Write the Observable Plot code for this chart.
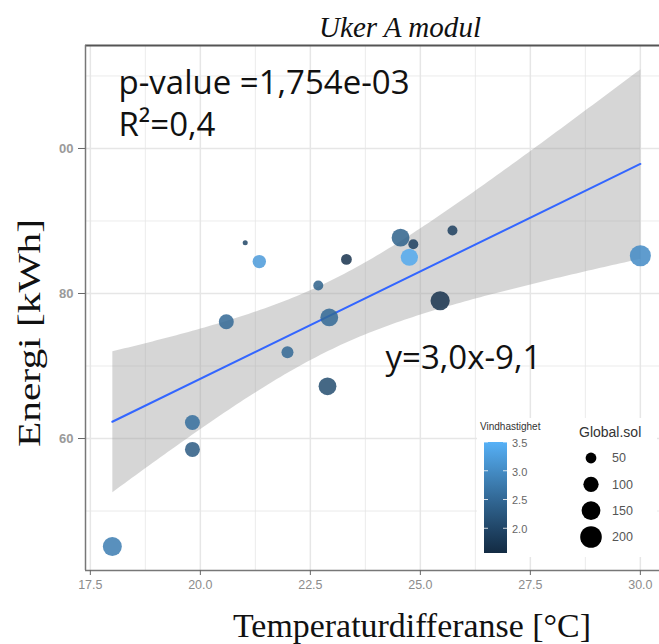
<!DOCTYPE html>
<html>
<head>
<meta charset="utf-8">
<script src="https://cdn.jsdelivr.net/npm/d3@7"></script>
<script src="https://cdn.jsdelivr.net/npm/@observablehq/plot@0.6"></script>
<style>
  html, body { margin: 0; padding: 0; background: white; overflow: hidden; }
  #wrap { position: relative; width: 659px; height: 644px; }
  #wrap svg { position: absolute; left: 0; top: 0; }
</style>
</head>
<body>
<div id="wrap"></div>
<script>
// ---- data ----
const temp   = [18.0, 19.82, 19.82, 20.59, 21.02, 21.34, 21.98, 22.68, 22.93, 22.89, 23.32, 24.55, 24.84, 24.75, 25.45, 25.73, 30.0];
const energi = [45.1, 62.2, 58.5, 76.1, 87.0, 84.4, 71.9, 81.1, 76.7, 67.2, 84.7, 87.7, 86.8, 85.0, 79.0, 88.7, 85.2];
const vind   = [2.8, 2.6, 2.3, 2.5, 2.0, 3.2, 2.5, 2.4, 2.5, 2.1, 1.7, 2.4, 1.9, 3.4, 1.7, 1.9, 3.0];
const sol    = [170, 106, 106, 106, 12, 85, 68, 47, 150, 150, 55, 150, 47, 140, 175, 47, 210];

const xTicks = [17.5, 20.0, 22.5, 25.0, 27.5, 30.0];
const xMinor = [18.75, 21.25, 23.75, 26.25, 28.75];
const yTicks = [60, 80, 100];
const yTickLabels = ["60", "80", "00"];
const yMinor = [50, 70, 90, 110];
const vindTicks = [2.0, 2.5, 3.0, 3.5];
const solTicks = [50, 100, 150, 200];

const title = "Uker A modul";
const xLabel = "Temperaturdifferanse [°C]";
const yLabel = "Energi [kWh]";
const pText = "p-value =1,754e-03";
const r2Text = "R²=0,4";
const eqText = "y=3,0x-9,1";
const vindTitle = "Vindhastighet";
const solTitle = "Global.sol";

const xDomain = [17.39, 30.435];
const yDomain = [41.8, 114.2];
const vindDomain = [1.57, 3.5];
const colorRange = ["#132B43", "#56B1F7"];

const data = temp.map((t, i) => ({temp: t, energi: energi[i], vind: vind[i], sol: sol[i]}));

const W = 659, H = 644;
const gridColor = "#e6e6e6";
const annFont = "Open Sans, sans-serif";

const plot = Plot.plot({
  width: W, height: H,
  marginLeft: 85, marginRight: 0, marginTop: 45, marginBottom: 74,
  style: {fontFamily: "Liberation Sans, Arial, sans-serif", background: "white"},
  x: {domain: xDomain},
  y: {domain: yDomain},
  r: {type: "sqrt", domain: [0, 250], range: [0, 11.5]},
  color: {type: "linear", domain: vindDomain, range: colorRange, interpolate: d3.interpolateLab},
  marks: [
    Plot.gridX(xMinor, {stroke: gridColor, strokeOpacity: 1, strokeWidth: 0.8}),
    Plot.gridY(yMinor, {stroke: gridColor, strokeOpacity: 1, strokeWidth: 0.8}),
    Plot.gridX(xTicks, {stroke: gridColor, strokeOpacity: 1, strokeWidth: 1.5}),
    Plot.gridY(yTicks, {stroke: gridColor, strokeOpacity: 1, strokeWidth: 1.5}),
    Plot.linearRegressionY(data, {x: "temp", y: "energi", ci: 0.95, stroke: "#3366ff", strokeWidth: 2, fill: "#999999", fillOpacity: 0.4}),
    Plot.dot(data, {x: "temp", y: "energi", r: "sol", fill: "vind", fillOpacity: 0.85}),
    Plot.ruleY([yDomain[1]], {stroke: "#555", strokeWidth: 2}),
    Plot.ruleX([xDomain[0]], {stroke: "#777", strokeWidth: 1.5}),
    Plot.ruleY([yDomain[0]], {stroke: "#777", strokeWidth: 1.5}),
    Plot.axisX(xTicks, {tickFormat: d => d.toFixed(1), fontSize: 12.5, stroke: "#666", fill: "#8c8c8c", tickSize: 5, tickPadding: 5, label: null}),
    Plot.axisY(yTicks, {tickFormat: d => yTickLabels[yTicks.indexOf(d)], fontSize: 13, fontWeight: "bold", stroke: "#666", fill: "#9a9a9a", tickSize: 7, tickPadding: 5, label: null}),
    Plot.text([pText], {frameAnchor: "top-left", dx: 33, dy: 38, fontSize: 33, textAnchor: "start", lineAnchor: "middle", fontFamily: annFont, fill: "#111"}),
    Plot.text([r2Text], {frameAnchor: "top-left", dx: 33, dy: 80, fontSize: 33, textAnchor: "start", lineAnchor: "middle", fontFamily: annFont, fill: "#111"}),
    Plot.text([eqText], {frameAnchor: "top-left", dx: 300, dy: 313, fontSize: 33, textAnchor: "start", lineAnchor: "middle", fontFamily: annFont, fill: "#111"})
  ]
});
document.getElementById("wrap").appendChild(plot);

// ---- overlay: titles, axis labels and legends (same scales as the plot) ----
const color = d3.scaleLinear().domain(vindDomain).range(colorRange).interpolate(d3.interpolateLab);
const rScale = d3.scaleSqrt().domain([0, 250]).range([0, 11.5]);
const svg = d3.select("#wrap").append("svg").attr("width", W).attr("height", H)
  .style("pointer-events", "none").style("font-family", "Liberation Sans, Arial, sans-serif");

const serif = "Liberation Serif, Times New Roman, serif";
svg.append("text").attr("x", 400).attr("y", 37).attr("text-anchor", "middle")
  .attr("font-family", serif).attr("font-style", "italic").attr("font-size", 29).attr("fill", "#111")
  .attr("textLength", 162).attr("lengthAdjust", "spacingAndGlyphs").text(title);
svg.append("text").attr("x", 412).attr("y", 637).attr("text-anchor", "middle")
  .attr("font-family", serif).attr("font-size", 34).attr("fill", "#111")
  .attr("textLength", 358).attr("lengthAdjust", "spacingAndGlyphs").text(xLabel);
svg.append("text").attr("transform", "translate(40,333) rotate(-90)").attr("text-anchor", "middle")
  .attr("font-family", serif).attr("font-size", 32).attr("fill", "#111")
  .attr("textLength", 228).attr("lengthAdjust", "spacingAndGlyphs").text(yLabel);

// legend background
svg.append("rect").attr("x", 477).attr("y", 418).attr("width", 180).attr("height", 139).attr("fill", "white");

// colour bar
const grad = svg.append("defs").append("linearGradient").attr("id", "vg")
  .attr("x1", 0).attr("y1", 1).attr("x2", 0).attr("y2", 0);
d3.range(0, 1.0001, 0.1).forEach(t => {
  grad.append("stop").attr("offset", t).attr("stop-color", color(vindDomain[0] + t * (vindDomain[1] - vindDomain[0])));
});
const barY = d3.scaleLinear().domain(vindDomain).range([553, 442]);
svg.append("text").attr("x", 480).attr("y", 430).attr("font-size", 10).attr("fill", "#333").text(vindTitle);
svg.append("rect").attr("x", 484).attr("y", barY(vindDomain[1])).attr("width", 23)
  .attr("height", barY(vindDomain[0]) - barY(vindDomain[1])).attr("fill", "url(#vg)");
vindTicks.forEach(v => {
  const y = barY(v);
  svg.append("line").attr("x1", 484).attr("x2", 488).attr("y1", y).attr("y2", y).attr("stroke", "white").attr("stroke-opacity", 0.8);
  svg.append("line").attr("x1", 503).attr("x2", 507).attr("y1", y).attr("y2", y).attr("stroke", "white").attr("stroke-opacity", 0.8);
  svg.append("text").attr("x", 512).attr("y", y + 1).attr("dy", "0.35em").attr("font-size", 11).attr("fill", "#666").text(v.toFixed(1));
});

// size legend
svg.append("text").attr("x", 579).attr("y", 437).attr("font-size", 14).attr("fill", "#333").text(solTitle);
const solY = d3.scaleLinear().domain([50, 200]).range([458, 537]);
solTicks.forEach(s => {
  svg.append("circle").attr("cx", 591).attr("cy", solY(s)).attr("r", rScale(s) * 1.05).attr("fill", "black");
  svg.append("text").attr("x", 612).attr("y", solY(s)).attr("dy", "0.35em").attr("font-size", 12.5).attr("fill", "#555").text(s);
});
</script>
</body>
</html>
